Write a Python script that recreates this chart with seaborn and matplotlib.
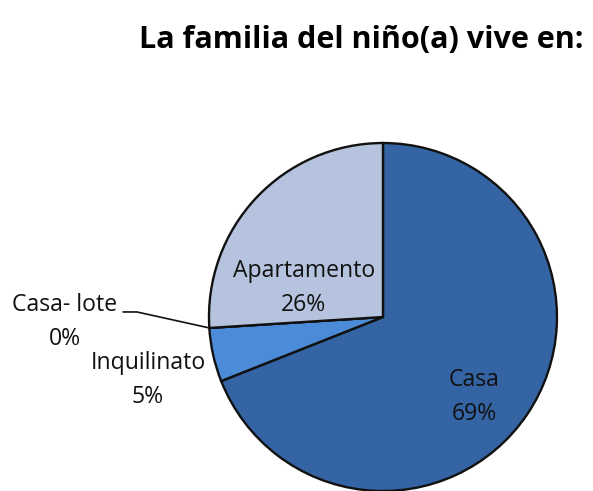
import matplotlib
matplotlib.use("Agg")
import seaborn as sns
import matplotlib.pyplot as plt
import numpy as np

# datos de la grafica
categorias = ["Casa", "Inquilinato", "Casa- lote", "Apartamento"]
porcentajes = [69, 5, 0, 26]
colores = ["#3464a3", "#4b8bd7", "#8fb0e0", "#b5c3de"]
titulo = "La familia del niño(a) vive en:"

sns.set_theme(style="white")
plt.rcParams['font.family'] = ['Open Sans', 'DejaVu Sans']

fig = plt.figure(figsize=(5.93, 4.91), dpi=100)
ax = fig.add_axes([0, 0, 1, 1])

wedges, _ = ax.pie(porcentajes, colors=colores, startangle=90, counterclock=False,
                   wedgeprops=dict(edgecolor="#111111", linewidth=1.7))

# limites para que el circulo quede donde esta en la imagen
ax.set_xlim(-2.201, 1.207)
ax.set_ylim(-1.0, 1.822)
ax.set_aspect("equal")
ax.axis("off")

# posiciones de las etiquetas (layout)
pos_etiquetas = [(0.523, -0.460), (-1.351, -0.362), (-1.828, -0.029), (-0.454, 0.167)]
for cat, val, (x, y) in zip(categorias, porcentajes, pos_etiquetas):
    ax.text(x, y, f"{cat}\n{val}%", ha="center", va="center", fontsize=16.6,
            linespacing=1.52, color="#111111")

# linea guia para Casa- lote
w = wedges[2]
ang = np.deg2rad(w.theta1)
y0 = 0.029
ax.plot([-1.494, -1.414, np.cos(ang)], [y0, y0, np.sin(ang)], color="#111111", lw=1.2)

fig.text(361 / 593, 1 - 40 / 491, titulo, ha="center", va="center",
         fontsize=22, fontweight="bold", color="#000000")

fig.savefig("out.png", dpi=100)
